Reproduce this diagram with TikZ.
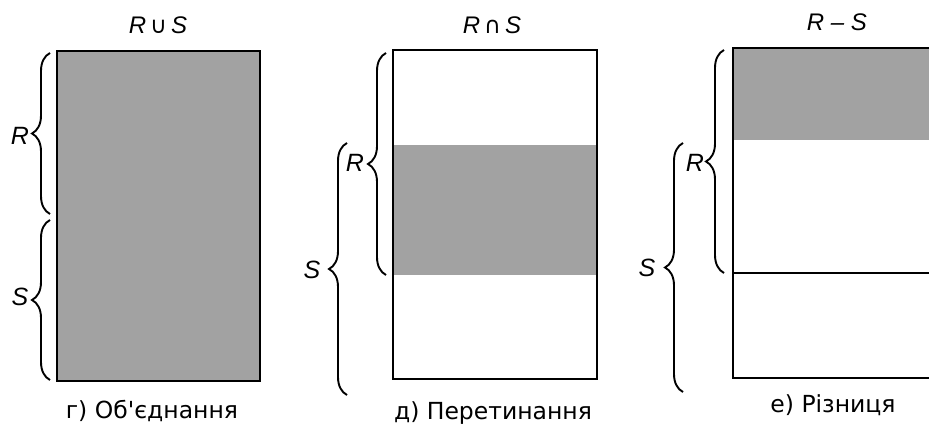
\documentclass[tikz,border=0pt]{standalone}
\usepackage{fontspec}
\setmainfont{DejaVu Sans}[Ligatures=NoCommon]
\newfontfamily\setfont{Liberation Sans}
\newfontfamily\opfont{DejaVu Sans}
\usetikzlibrary{decorations.pathreplacing}
\definecolor{shade}{RGB}{162,162,162}
\tikzset{
  frame/.style={line width=2.2pt},
  halftone/.style={fill=shade},
  setbrace/.style={line width=1.9pt, decorate, decoration={brace, amplitude=18pt}},
  setname/.style={font=\setfont\itshape\fontsize{25}{25}\selectfont, inner sep=0pt},
  optitle/.style={font=\setfont\itshape\fontsize{24}{24}\selectfont, inner sep=0pt},
  caption/.style={font=\fontsize{23.5}{23.5}\selectfont, inner sep=0pt}
}
\newcommand{\setop}[1]{{\opfont\upshape\fontsize{23}{23}\selectfont#1}}
\begin{document}
\begin{tikzpicture}[x=1pt, y=1pt]
\useasboundingbox (0,0) rectangle (929,428);
\clip (0,0) rectangle (929,428);

% --- union ---
\fill[halftone] (57,47) rectangle (260,377);
\draw[frame] (57,47) rectangle (260,377);
\draw[setbrace] (50,214) -- (50,375);
\draw[setbrace] (50,48) -- (50,208);
\node[setname] (uR) at (20,292) {R};
\node[setname] (uS) at (20,131) {S};
\node[optitle] (uT) at (158,403) {R\,\setop{∪}\,S};
\node[caption] (uC) at (152,17) {г) Об\textquotesingle єднання};

% --- intersection ---
\fill[halftone] (393,153) rectangle (597,283);
\draw[frame] (393,49) rectangle (597,378);
\draw[setbrace] (386,153) -- (386,375);
\draw[setbrace] (347,33) -- (347,285);
\node[setname] (iR) at (355,265) {R};
\node[setname] (iS) at (312,158) {S};
\node[optitle] (iT) at (492,403) {R\,\setop{∩}\,S};
\node[caption] (iC) at (493,15) {д) Перетинання};

% --- difference ---
\fill[halftone] (733,288) rectangle (940,380);
\draw[frame] (940,50) -- (733,50) -- (733,380) -- (940,380);
\draw[line width=1.3pt] (733,155) -- (940,155);
\draw[setbrace] (724,155) -- (724,378);
\draw[setbrace] (683,36) -- (683,285);
\node[setname] (dR) at (695,265) {R};
\node[setname] (dS) at (647,160) {S};
\node[optitle] (dT) at (837,406) {R – S};
\node[caption] (dC) at (833,23) {е) Різниця};
\end{tikzpicture}
\end{document}
